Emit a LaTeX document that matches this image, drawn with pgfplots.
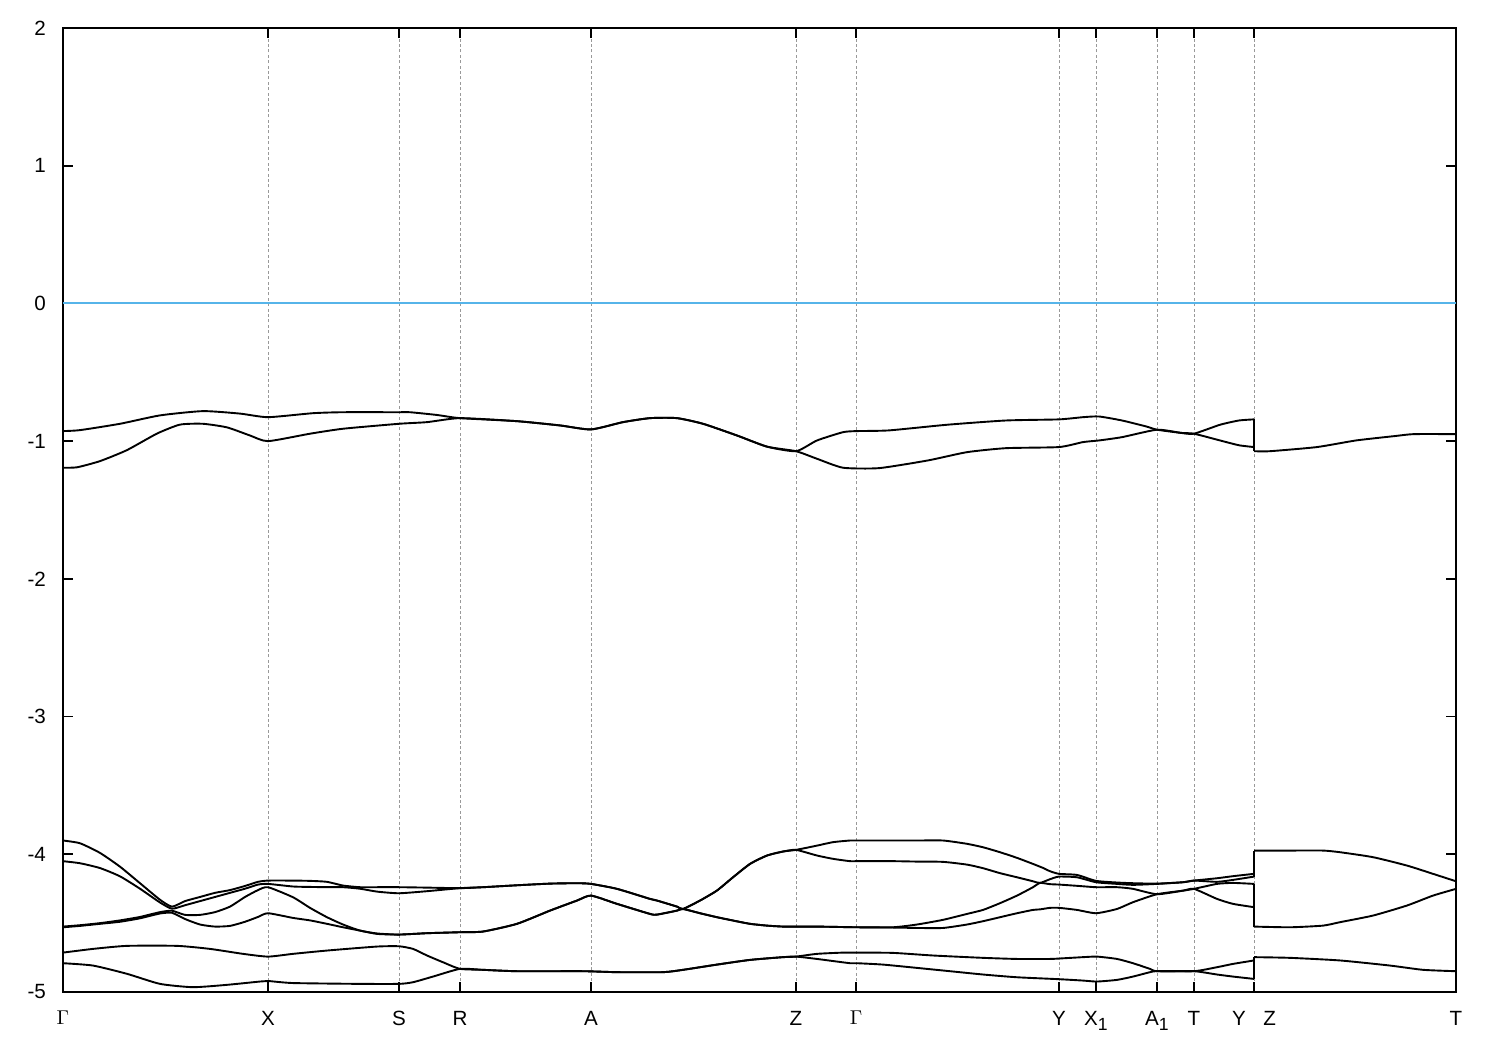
\documentclass[border=0pt]{standalone}
\usepackage{pgfplots}
\pgfplotsset{compat=1.18}
\usepackage{fontspec}
\setmainfont{Liberation Sans}
\definecolor{fermiblue}{rgb}{0.337,0.706,0.914}
\newcommand{\sub}[1]{\raisebox{-0.45ex}{\fontsize{8.8}{10}\selectfont #1}}
\begin{document}
\begin{tikzpicture}
\begin{axis}[
  at={(0,0)}, anchor=south west,
  scale only axis, width=696.5pt, height=482pt,
  xmin=63, xmax=1456, ymin=-5, ymax=2,
  ytick={-5,-4,-3,-2,-1,0,1,2},
  xtick={63,268,399,460,591,796,856,1059,1096,1157,1194,1254,1456},
  xticklabels={$\Gamma$,X,S,R,A,Z,$\Gamma$,Y,X\sub{1},A\sub{1},T,{Y\hspace{0.85em}Z},T},
  tick align=inside,
  major tick length=5pt,
  axis line style={line width=0.95pt},
  every tick/.style={line width=0.9pt, black},
  xmajorgrids,
  major x grid style={dash pattern=on 1.5pt off 1.2pt, color=black!40, line width=0.4pt},
  tick label style={font=\fontsize{10.3}{12}\selectfont},
  /pgf/number format/assume math mode=true,
  yticklabel style={xshift=-5pt},
  xticklabel style={yshift=-6pt},
  band/.style={black, solid, line width=0.95pt, mark=none},
  sband/.style={black, solid, line width=0.95pt, mark=none, smooth, tension=0.35},
]
% Fermi level
\addplot+[fermiblue, solid, line width=0.95pt, mark=none, opacity=1] coordinates {(63,0)(700,0)(1456,0)};
% ---------- upper pair ----------
\addplot[sband] coordinates {(63,-0.927)(80,-0.92)(120,-0.874)(160,-0.813)(203,-0.782)(240,-0.80)(268,-0.826)(313,-0.797)(343,-0.79)(399,-0.79)(410,-0.79)(437,-0.81)(460,-0.833)(517,-0.855)(560,-0.886)(591,-0.915)(623,-0.862)(650,-0.833)(677,-0.833)(703,-0.874)(737,-0.959)(767,-1.04)(796,-1.073)(817,-0.995)(843,-0.935)(857,-0.927)(889,-0.922)(947,-0.881)(1006,-0.85)(1059,-0.842)(1083,-0.826)(1099,-0.821)(1122,-0.85)(1146,-0.893)(1157,-0.917)(1181,-0.94)(1194,-0.946)(1220,-0.881)(1239,-0.85)(1254,-0.842)};
\addplot[sband] coordinates {(63,-1.193)(77,-1.19)(100,-1.145)(127,-1.065)(157,-0.945)(180,-0.88)(203,-0.874)(227,-0.90)(250,-0.959)(268,-1.0)(310,-0.946)(343,-0.91)(399,-0.874)(427,-0.862)(460,-0.833)(517,-0.855)(560,-0.886)(591,-0.915)(623,-0.862)(650,-0.833)(677,-0.833)(703,-0.874)(737,-0.959)(767,-1.04)(796,-1.073)(817,-1.128)(843,-1.193)(879,-1.196)(928,-1.14)(967,-1.08)(1006,-1.051)(1059,-1.043)(1083,-1.007)(1099,-0.995)(1122,-0.971)(1157,-0.917)(1181,-0.94)(1194,-0.946)(1220,-0.995)(1239,-1.03)(1254,-1.043)};
\addplot[band] coordinates {(1254,-0.842)(1254,-1.073)};
\addplot[sband] coordinates {(1254,-1.073)(1270,-1.073)(1317,-1.043)(1356,-0.995)(1395,-0.963)(1414,-0.949)(1456,-0.949)};
% ---------- b1 ----------
\addplot[sband] coordinates {(63,-3.90)(80,-3.92)(100,-3.99)(120,-4.09)(140,-4.21)(160,-4.33)(172,-4.38)(185,-4.34)(200,-4.31)(215,-4.28)(230,-4.26)(245,-4.23)(258,-4.20)(268,-4.191)(293,-4.191)(310,-4.193)(327,-4.200)(343,-4.227)(360,-4.239)(377,-4.239)(399,-4.239)(427,-4.242)(460,-4.246)(483,-4.239)(517,-4.225)(550,-4.213)(577,-4.21)(591,-4.215)(617,-4.251)(650,-4.324)(657,-4.336)(677,-4.38)(683,-4.397)(700,-4.336)(717,-4.263)(733,-4.167)(750,-4.07)(767,-4.009)(783,-3.98)(796,-3.968)(817,-3.937)(833,-3.912)(850,-3.90)(857,-3.90)(893,-3.90)(917,-3.90)(943,-3.90)(967,-3.924)(983,-3.949)(1000,-3.985)(1017,-4.026)(1033,-4.070)(1043,-4.099)(1050,-4.123)(1059,-4.142)(1077,-4.150)(1096,-4.193)(1117,-4.205)(1133,-4.210)(1157,-4.213)(1183,-4.203)(1194,-4.191)(1217,-4.174)(1233,-4.159)(1254,-4.142)};
% ---------- b2 ----------
\addplot[sband] coordinates {(63,-4.05)(80,-4.065)(100,-4.10)(120,-4.16)(140,-4.25)(160,-4.35)(172,-4.395)(185,-4.37)(200,-4.34)(215,-4.31)(230,-4.28)(245,-4.25)(258,-4.22)(268,-4.215)(293,-4.234)(310,-4.237)(327,-4.239)(343,-4.239)(360,-4.25)(377,-4.271)(399,-4.283)(427,-4.268)(460,-4.246)(483,-4.239)(517,-4.225)(550,-4.213)(577,-4.21)(591,-4.215)(617,-4.251)(650,-4.324)(657,-4.336)(677,-4.38)(683,-4.397)(700,-4.336)(717,-4.263)(733,-4.167)(750,-4.07)(767,-4.009)(783,-3.98)(796,-3.968)(817,-4.009)(833,-4.033)(850,-4.05)(857,-4.05)(893,-4.05)(917,-4.053)(943,-4.055)(967,-4.075)(983,-4.101)(1000,-4.137)(1017,-4.167)(1033,-4.196)(1040,-4.208)(1050,-4.181)(1059,-4.162)(1077,-4.167)(1096,-4.203)(1117,-4.215)(1133,-4.222)(1157,-4.215)(1183,-4.203)(1194,-4.191)(1217,-4.20)(1233,-4.186)(1254,-4.162)};
\addplot[band] coordinates {(1254,-3.973)(1254,-4.162)};
\addplot[sband] coordinates {(1254,-3.973)(1290,-3.973)(1323,-3.973)(1340,-3.985)(1373,-4.021)(1407,-4.082)(1433,-4.142)(1456,-4.196)};
% ---------- b3 ----------
\addplot[sband] coordinates {(63,-4.525)(80,-4.515)(100,-4.50)(120,-4.48)(140,-4.455)(160,-4.42)(172,-4.41)(185,-4.44)(200,-4.44)(215,-4.42)(230,-4.38)(245,-4.31)(258,-4.26)(268,-4.239)(293,-4.312)(310,-4.389)(327,-4.457)(343,-4.51)(360,-4.554)(377,-4.575)(399,-4.583)(427,-4.573)(460,-4.566)(483,-4.561)(517,-4.505)(550,-4.409)(577,-4.336)(591,-4.30)(617,-4.36)(650,-4.433)(657,-4.438)(677,-4.409)(683,-4.397)(700,-4.428)(717,-4.457)(733,-4.481)(750,-4.505)(767,-4.518)(783,-4.525)(796,-4.525)(817,-4.525)(857,-4.530)(893,-4.530)(917,-4.510)(943,-4.476)(967,-4.433)(983,-4.404)(1000,-4.355)(1017,-4.30)(1033,-4.239)(1040,-4.208)(1050,-4.217)(1059,-4.220)(1077,-4.229)(1096,-4.239)(1117,-4.239)(1133,-4.251)(1157,-4.29)(1183,-4.264)(1194,-4.251)(1217,-4.215)(1233,-4.208)(1254,-4.215)};
% ---------- b4 ----------
\addplot[sband] coordinates {(63,-4.53)(80,-4.52)(100,-4.505)(120,-4.49)(140,-4.465)(160,-4.43)(172,-4.425)(185,-4.47)(200,-4.51)(215,-4.525)(230,-4.52)(245,-4.49)(258,-4.455)(268,-4.428)(293,-4.462)(310,-4.48)(327,-4.505)(343,-4.53)(360,-4.554)(377,-4.578)(399,-4.583)(427,-4.573)(460,-4.566)(483,-4.561)(517,-4.505)(550,-4.409)(577,-4.336)(591,-4.30)(617,-4.36)(650,-4.433)(657,-4.438)(677,-4.409)(683,-4.397)(700,-4.428)(717,-4.457)(733,-4.481)(750,-4.505)(767,-4.518)(783,-4.525)(796,-4.525)(817,-4.525)(857,-4.530)(893,-4.532)(917,-4.535)(943,-4.535)(967,-4.51)(983,-4.486)(1000,-4.457)(1017,-4.428)(1033,-4.404)(1040,-4.40)(1050,-4.389)(1059,-4.389)(1077,-4.404)(1096,-4.428)(1117,-4.397)(1133,-4.348)(1157,-4.29)(1183,-4.264)(1194,-4.251)(1217,-4.324)(1233,-4.36)(1254,-4.384)};
\addplot[band] coordinates {(1254,-4.215)(1254,-4.525)};
\addplot[sband] coordinates {(1254,-4.525)(1290,-4.53)(1323,-4.518)(1340,-4.493)(1373,-4.445)(1407,-4.372)(1433,-4.30)(1456,-4.251)};
% ---------- b5 ----------
\addplot[sband] coordinates {(63,-4.714)(93,-4.687)(127,-4.665)(177,-4.665)(210,-4.687)(243,-4.723)(268,-4.743)(293,-4.723)(327,-4.699)(377,-4.670)(399,-4.668)(413,-4.687)(427,-4.735)(443,-4.784)(460,-4.832)(483,-4.839)(517,-4.849)(583,-4.849)(617,-4.856)(663,-4.856)(683,-4.839)(717,-4.801)(750,-4.767)(783,-4.747)(796,-4.743)(817,-4.723)(843,-4.714)(857,-4.714)(893,-4.716)(933,-4.735)(983,-4.752)(1017,-4.760)(1050,-4.760)(1059,-4.757)(1083,-4.747)(1097,-4.743)(1117,-4.760)(1133,-4.791)(1150,-4.832)(1157,-4.849)(1194,-4.849)(1217,-4.820)(1233,-4.796)(1254,-4.771)};
% ---------- b6 ----------
\addplot[sband] coordinates {(63,-4.791)(93,-4.808)(127,-4.868)(160,-4.941)(193,-4.965)(227,-4.948)(260,-4.924)(268,-4.92)(293,-4.935)(360,-4.941)(399,-4.941)(413,-4.929)(433,-4.888)(460,-4.832)(483,-4.839)(517,-4.849)(583,-4.849)(617,-4.856)(663,-4.856)(683,-4.839)(717,-4.801)(750,-4.767)(783,-4.747)(796,-4.743)(817,-4.76)(850,-4.791)(857,-4.791)(883,-4.801)(917,-4.825)(950,-4.849)(983,-4.873)(1017,-4.893)(1059,-4.907)(1083,-4.917)(1097,-4.924)(1117,-4.912)(1133,-4.888)(1150,-4.856)(1157,-4.849)(1194,-4.849)(1217,-4.873)(1233,-4.888)(1254,-4.905)};
\addplot[band] coordinates {(1254,-4.747)(1254,-4.905)};
\addplot[sband] coordinates {(1254,-4.747)(1290,-4.752)(1340,-4.771)(1390,-4.808)(1423,-4.839)(1456,-4.849)};
\end{axis}
\pgfresetboundingbox
\path (-31.5pt,-29pt) rectangle (718.5pt,496pt);
\end{tikzpicture}
\end{document}
